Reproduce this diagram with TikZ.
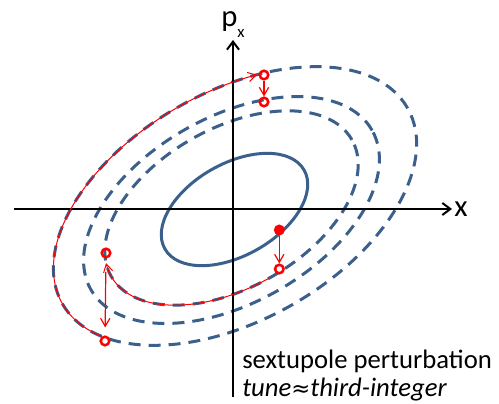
\documentclass[tikz,border=0pt]{standalone}
\usepackage{fontspec}
\setmainfont{Carlito}
\newfontfamily\symfont{DejaVu Sans}
\usetikzlibrary{arrows.meta}
\definecolor{ellblue}{RGB}{59,96,140}
\begin{document}
\begin{tikzpicture}[x=0.75pt,y=0.75pt,
  axisline/.style={line width=1.5pt, -{Straight Barb[length=6pt,width=9pt]}},
  orbit/.style={ellblue, line width=2.25pt},
  dashorbit/.style={orbit, dash pattern=on 9pt off 6pt},
  kick/.style={red, line width=0.9pt, -{Straight Barb[length=6pt,width=7pt]}},
  track/.style={red, line width=0.75pt, -{Straight Barb[length=6pt,width=7pt]}},
  hollow/.style={circle, draw=red, line width=1.9pt, minimum size=6.4pt, inner sep=0pt},
  filleddot/.style={circle, fill=red, minimum size=8.25pt, inner sep=0pt},
  lbl/.style={font=\fontsize{20}{24}\selectfont, inner sep=0pt, anchor=base west},
  axlbl/.style={font=\fontsize{23}{26}\selectfont, inner sep=0pt, anchor=base west}]
\useasboundingbox (0,0) rectangle (499,403);

% orbits
\begin{scope}[shift={(234.5,193.5)}, rotate=29.5]
  \draw[orbit] (0,0) ellipse[x radius=60pt, y radius=34.5pt];
\end{scope}
\begin{scope}[shift={(231.5,195)}, rotate=29.5]
  \draw[dashorbit] (0,0) ellipse[x radius=103.8pt, y radius=59.7pt];
\end{scope}
\begin{scope}[shift={(231.5,193)}, rotate=29.5]
  \draw[dashorbit] (0,0) ellipse[x radius=121.2pt, y radius=69.7pt];
\end{scope}
\begin{scope}[shift={(235,197)}, rotate=29.5]
  \draw[dashorbit] (0,0) ellipse[x radius=148.8pt, y radius=85.6pt];
\end{scope}

% axes
\coordinate (xl) at (14,194);
\coordinate (xr) at (452,194);
\coordinate (yb) at (233,6);
\coordinate (yt) at (233,363);
\draw[axisline] (xl) -- (xr);
\draw[axisline] (yb) -- (yt);
\node[axlbl] (xlab) at (454,186) {x};
\node[axlbl] (plab) at (221,376) {p\raisebox{-8.2pt}{\fontsize{12.5}{13}\selectfont x}};

% tracking arcs
\begin{scope}[shift={(231.5,195)}, rotate=29.5]
  \draw[track] plot[domain=-91:-190, samples=80, smooth] ({138.4*cos(\x)},{79.6*sin(\x)});
\end{scope}
\begin{scope}[shift={(235,197)}, rotate=29.5]
  \draw[track] plot[domain=-155:-295, samples=100, smooth] ({198.4*cos(\x)},{114.1*sin(\x)});
\end{scope}

% particle positions
\node[filleddot] (d0) at (279.3,173) {};
\node[hollow] (c1) at (279.3,134) {};
\node[hollow] (c2) at (106,150) {};
\node[hollow] (c3) at (105,62) {};
\node[hollow] (c4) at (264,328) {};
\node[hollow] (c5) at (264,301) {};

% kicks
\draw[kick] (d0) -- (c1);
\draw[kick, shorten <=10pt, shorten >=6pt] (c2) -- (c3);
\draw[kick] (c4) -- (c5);

% caption
\node[lbl] (t1) at (242,35) {sextupole perturbation};
\node[lbl] (t2) at (242,7) {\itshape tune{\upshape\symfont\fontsize{17}{17}\selectfont ≈}third-integer};
\end{tikzpicture}
\end{document}
